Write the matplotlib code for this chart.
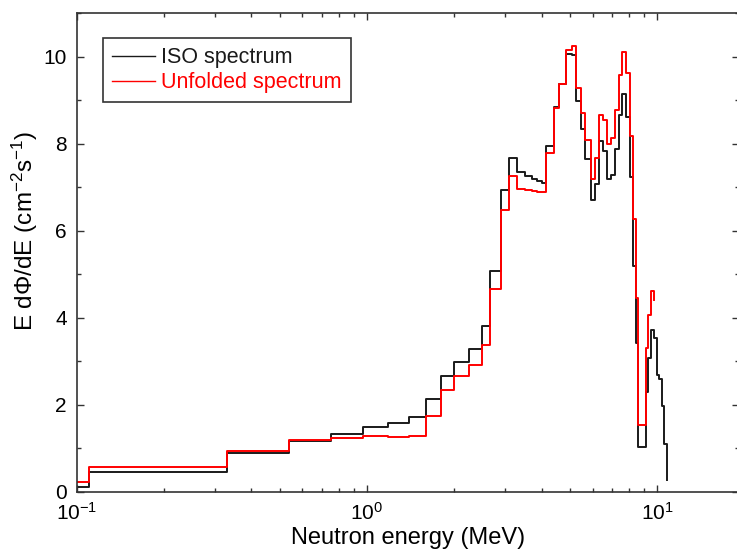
import matplotlib
matplotlib.use('Agg')
import matplotlib.pyplot as plt
from matplotlib.ticker import LogLocator, MultipleLocator

plt.rcParams['font.family'] = ['Liberation Sans', 'DejaVu Sans']
plt.rcParams['mathtext.fontset'] = 'custom'
plt.rcParams['mathtext.rm'] = 'Liberation Sans'
plt.rcParams['mathtext.it'] = 'Liberation Sans:italic'
plt.rcParams['mathtext.default'] = 'regular'

# ── data (bin edges in MeV, E dPhi/dE per bin) ───────────────────────────────
energy_edges = [0.1, 0.11, 0.33, 0.54, 0.75, 0.97, 1.18, 1.4, 1.6, 1.8, 2.0,
                2.25, 2.5, 2.65, 2.9, 3.1, 3.3, 3.5, 3.7, 3.85, 4.0, 4.15,
                4.4, 4.6, 4.85, 5.1, 5.25, 5.45, 5.65, 5.9, 6.1, 6.3, 6.5,
                6.75, 6.95, 7.15, 7.4, 7.6, 7.85, 8.05, 8.25, 8.45, 8.6,
                9.15, 9.3, 9.5, 9.75, 10.0, 10.2, 10.4, 10.6, 10.85]

iso_values = [0.10, 0.46, 0.90, 1.17, 1.33, 1.49, 1.58, 1.71, 2.14, 2.66,
              2.99, 3.29, 3.81, 5.08, 6.93, 7.67, 7.36, 7.26, 7.20, 7.14,
              7.09, 7.94, 8.84, 9.38, 10.07, 10.05, 8.99, 8.34, 7.65, 6.70,
              7.08, 8.06, 7.83, 7.20, 7.28, 7.89, 8.66, 9.14, 8.62, 7.24,
              5.20, 3.41, 1.03, 2.30, 3.08, 3.72, 3.54, 2.68, 2.58, 1.98,
              1.10]
iso_end = 0.27

unfolded_values = [0.22, 0.56, 0.94, 1.19, 1.23, 1.29, 1.26, 1.29, 1.73, 2.33,
                   2.66, 2.91, 3.37, 4.66, 6.48, 7.25, 6.97, 6.93, 6.91, 6.89,
                   6.88, 7.78, 8.82, 9.38, 10.16, 10.24, 9.28, 8.70, 8.09, 7.18,
                   7.67, 8.67, 8.55, 7.99, 8.13, 8.77, 9.57, 10.11, 9.63, 8.18,
                   6.26, 4.45, 1.54, 3.31, 4.07, 4.62]
unfolded_end = 4.41

# ── figure ───────────────────────────────────────────────────────────────────
fig = plt.figure(figsize=(7.37, 5.51), dpi=100)
ax = fig.add_axes([76.7 / 737, 59.3 / 551, 662.5 / 737, 478.4 / 551])

x_iso = energy_edges[:len(iso_values) + 1]
ax.plot(x_iso, iso_values + [iso_end], drawstyle='steps-post',
        color='#1a1a1a', lw=1.4, label='ISO spectrum')

x_unf = energy_edges[:len(unfolded_values) + 1]
ax.plot(x_unf, unfolded_values + [unfolded_end], drawstyle='steps-post',
        color='#ff0000', lw=1.4, label='Unfolded spectrum')

ax.set_xscale('log')
ax.set_xlim(0.1, 19.2)
ax.set_ylim(0, 11)
ax.yaxis.set_major_locator(MultipleLocator(2))
ax.yaxis.set_minor_locator(MultipleLocator(1))
ax.xaxis.set_minor_locator(LogLocator(base=10, subs=range(2, 10)))

ax.set_xlabel('Neutron energy (MeV)', fontsize=17, labelpad=2)
ax.set_ylabel('E dΦ/dE (cm$^{-2}$s$^{-1}$)', fontsize=17.5)
ax.yaxis.set_label_coords(-0.056, 0.545)

for spine in ax.spines.values():
    spine.set_linewidth(1.2)
    spine.set_color('#333333')
ax.tick_params(which='both', direction='in', top=True, right=True,
               width=1.0, color='#333333')
ax.tick_params(which='major', length=5, labelsize=15)
ax.tick_params(axis='x', which='major', pad=7.5)
ax.tick_params(axis='y', which='major', pad=7)
ax.tick_params(which='minor', length=3)

leg = ax.legend(loc='upper left', bbox_to_anchor=(0.039, 0.948),
                borderaxespad=0, fontsize=15.5, fancybox=False,
                edgecolor='#333333', handlelength=2.0, handletextpad=0.3,
                labelspacing=0.18, borderpad=0.42, framealpha=1)
leg.get_frame().set_linewidth(1.2)
for txt, line in zip(leg.get_texts(), leg.get_lines()):
    txt.set_color(line.get_color())
    line.set_linewidth(1.0)

fig.savefig('out.png', dpi=100)
